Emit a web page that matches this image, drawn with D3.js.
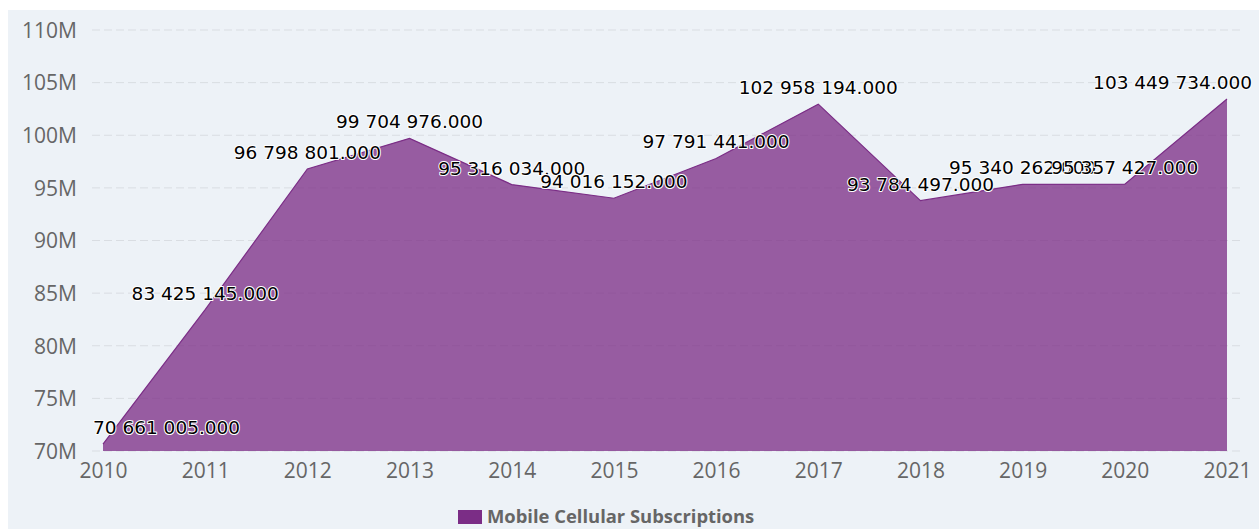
<!DOCTYPE html>
<html>
<head>
<meta charset="utf-8">
<script src="https://cdn.jsdelivr.net/npm/d3@7"></script>
<style>
    body { margin: 0; background: #fff; }
    #chart { width: 1259px; height: 529px; }
</style>
</head>
<body>
<div id="chart"></div>
<script>
// Mobile cellular subscriptions, yearly
const years = [2010, 2011, 2012, 2013, 2014, 2015, 2016, 2017, 2018, 2019, 2020, 2021];
const subscriptions = [70661005, 83425145, 96798801, 99704976, 95316034, 94016152,
    97791441, 102958194, 93784497, 95340262, 95357427, 103449734];
const yTicks = [70e6, 75e6, 80e6, 85e6, 90e6, 95e6, 100e6, 105e6, 110e6];
const seriesName = "Mobile Cellular Subscriptions";

const data = years.map((y, i) => ({ year: y, value: subscriptions[i] }));

const width = 1259, height = 529;
const color = "#7b2d86";

const svg = d3.select("#chart")
    .append("svg")
    .attr("width", width)
    .attr("height", height);

// chart background
svg.append("rect")
    .attr("x", 8).attr("y", 10)
    .attr("width", width - 8).attr("height", height - 10)
    .attr("fill", "#edf2f7");

const x = d3.scaleLinear()
    .domain([2010, 2021])
    .range([103, 1227]);

const y = d3.scaleLinear()
    .domain([70e6, 110e6])
    .range([451, 30]);

// gridlines
svg.append("g")
    .selectAll("line")
    .data(yTicks)
    .join("line")
    .attr("x1", 92).attr("x2", 1240)
    .attr("y1", (d) => y(d)).attr("y2", (d) => y(d))
    .attr("stroke", "#d9dde2")
    .attr("stroke-width", 1)
    .attr("stroke-dasharray", "8,4");

// y axis labels
const yAxis = d3.axisLeft(y)
    .tickValues(yTicks)
    .tickSize(0)
    .tickPadding(0)
    .tickFormat((d) => d / 1e6 + "M");

svg.append("g")
    .attr("transform", "translate(77,0)")
    .call(yAxis)
    .call((g) => g.select(".domain").remove())
    .selectAll("text")
    .attr("font-family", "'Open Sans', sans-serif")
    .attr("font-size", "21px")
    .attr("fill", "#666")
    .attr("dy", "0.35em");

// x axis labels
const xAxis = d3.axisBottom(x)
    .tickValues(years)
    .tickSize(0)
    .tickPadding(0)
    .tickFormat(d3.format("d"));

svg.append("g")
    .attr("transform", "translate(0,471)")
    .call(xAxis)
    .call((g) => g.select(".domain").remove())
    .selectAll("text")
    .attr("font-family", "'Open Sans', sans-serif")
    .attr("font-size", "21px")
    .attr("fill", "#666")
    .attr("dy", "0.35em");

// area
const area = d3.area()
    .x((d) => x(d.year))
    .y0(y(70e6))
    .y1((d) => y(d.value));

svg.append("path")
    .datum(data)
    .attr("d", area)
    .attr("fill", color)
    .attr("fill-opacity", 0.76);

const line = d3.line()
    .x((d) => x(d.year))
    .y((d) => y(d.value));

svg.append("path")
    .datum(data)
    .attr("d", line)
    .attr("fill", "none")
    .attr("stroke", color)
    .attr("stroke-width", 1.2);

// data labels, kept inside the chart box
const fmt = (v) => d3.format(",")(v).replace(/,/g, " ") + ".000";

const labels = svg.append("g")
    .selectAll("text")
    .data(data)
    .join("text")
    .attr("font-family", "'DejaVu Sans', Verdana, sans-serif")
    .attr("font-size", "18.5px")
    .attr("fill", "#000")
    .attr("stroke", "#fff")
    .attr("stroke-width", 2)
    .attr("stroke-linejoin", "round")
    .attr("paint-order", "stroke")
    .attr("text-anchor", "middle")
    .attr("x", (d) => x(d.year))
    .attr("y", (d) => y(d.value) - 10)
    .text((d) => fmt(d.value));

labels.each(function(d) {
    const w = this.getComputedTextLength();
    let cx = x(d.year);
    if (cx - w / 2 < 93) cx = 93 + w / 2;
    if (cx + w / 2 > 1252) cx = 1252 - w / 2;
    d3.select(this).attr("x", cx);
});

// legend
const legend = svg.append("g");
legend.append("rect")
    .attr("x", 458).attr("y", 510)
    .attr("width", 24).attr("height", 14)
    .attr("fill", color);
legend.append("text")
    .attr("font-family", "'Open Sans', sans-serif")
    .attr("font-weight", "bold")
    .attr("font-size", "18.4px")
    .attr("fill", "#666")
    .attr("x", 487)
    .attr("y", 517)
    .attr("dy", "0.35em")
    .text(seriesName);
</script>
</body>
</html>
